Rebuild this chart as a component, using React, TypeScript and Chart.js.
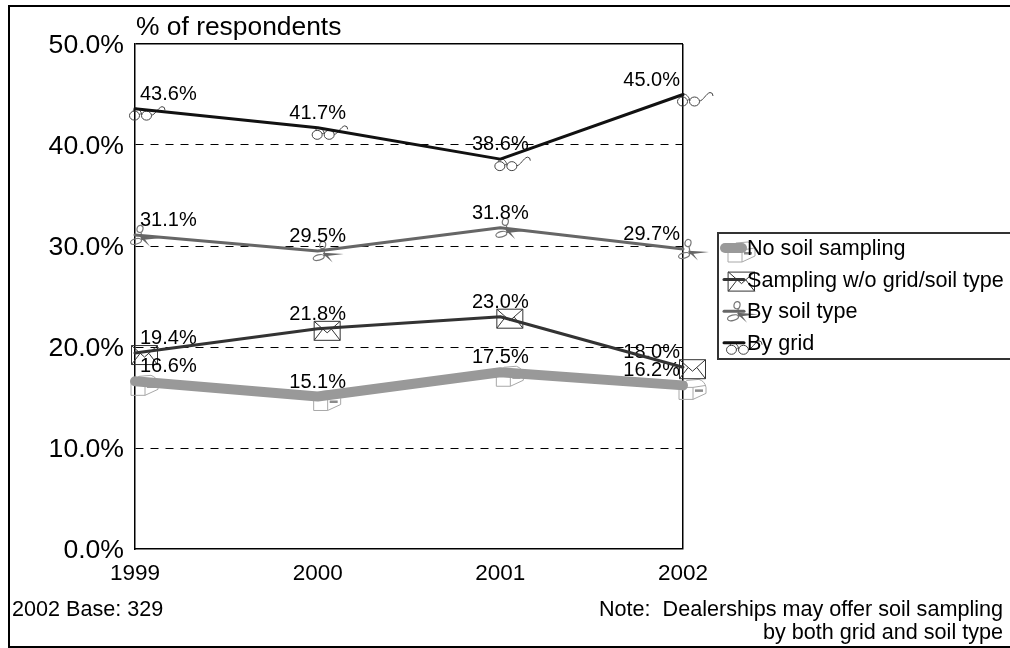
import React, { useEffect, useRef } from "react";
import { Chart, registerables } from "chart.js";

Chart.register(...registerables);

const FONT = '"Liberation Sans", Arial, sans-serif';

const years = ["1999", "2000", "2001", "2002"];
const noSoilSampling = [16.6, 15.1, 17.5, 16.2];
const samplingWithoutGrid = [19.4, 21.8, 23.0, 18.0];
const bySoilType = [31.1, 29.5, 31.8, 29.7];
const byGrid = [43.6, 41.7, 38.6, 45.0];

const seriesNames = ["No soil sampling", "Sampling w/o grid/soil type", "By soil type", "By grid"];
const seriesIcons = ["mailbox", "envelope", "scissors", "glasses"];
const seriesColors = ["#999999", "#333333", "#666666", "#111111"];
const seriesWidths = [10, 3, 3, 3];

const axisTitle = "% of respondents";
const baseNote = "2002 Base: 329";
const footNotes = ["Note:  Dealerships may offer soil sampling", "by both grid and soil type"];

function drawMailbox(ctx: CanvasRenderingContext2D, x: number, y: number) {
  ctx.save();
  ctx.translate(x, y);
  ctx.strokeStyle = "#a8a8a8";
  ctx.lineWidth = 1;
  ctx.beginPath();
  ctx.rect(-4, 2, 14, 12);
  ctx.moveTo(-4, 2);
  ctx.lineTo(4, -5);
  ctx.lineTo(16, -6);
  ctx.quadraticCurveTo(22, -4, 23, 2);
  ctx.lineTo(23, 8);
  ctx.lineTo(10, 14);
  ctx.moveTo(10, 2);
  ctx.lineTo(23, 0);
  ctx.stroke();
  ctx.fillStyle = "#8c8c8c";
  ctx.fillRect(12, 4, 8, 2.5);
  ctx.restore();
}

function drawEnvelope(ctx: CanvasRenderingContext2D, x: number, y: number) {
  ctx.save();
  ctx.translate(x, y);
  ctx.strokeStyle = "#333333";
  ctx.lineWidth = 1;
  ctx.beginPath();
  ctx.rect(-3.5, -7.5, 26, 19);
  ctx.moveTo(-3.5, -7.5);
  ctx.lineTo(9.5, 4);
  ctx.lineTo(22.5, -7.5);
  ctx.moveTo(-3.5, 11.5);
  ctx.lineTo(5, 0.5);
  ctx.moveTo(22.5, 11.5);
  ctx.lineTo(14, 0.5);
  ctx.stroke();
  ctx.restore();
}

function drawScissors(ctx: CanvasRenderingContext2D, x: number, y: number) {
  ctx.save();
  ctx.translate(x, y);
  ctx.strokeStyle = "#777777";
  ctx.lineWidth = 1.2;
  ctx.beginPath();
  ctx.ellipse(5, -6, 3, 3.6, 0.2, 0, Math.PI * 2);
  ctx.moveTo(6, -2.5);
  ctx.lineTo(7, 3);
  ctx.moveTo(7.5, 4);
  ctx.ellipse(1, 6.5, 5.6, 2.7, -0.25, 0, Math.PI * 2);
  ctx.stroke();
  ctx.fillStyle = "#666666";
  ctx.beginPath();
  ctx.moveTo(5, 1.6);
  ctx.lineTo(26, 3);
  ctx.lineTo(7, 5.2);
  ctx.closePath();
  ctx.fill();
  ctx.beginPath();
  ctx.moveTo(5.5, 3);
  ctx.lineTo(15, 11.5);
  ctx.lineTo(9, 3);
  ctx.closePath();
  ctx.fill();
  ctx.restore();
}

function drawGlasses(ctx: CanvasRenderingContext2D, x: number, y: number) {
  ctx.save();
  ctx.translate(x, y);
  ctx.strokeStyle = "#444444";
  ctx.lineWidth = 1;
  ctx.beginPath();
  ctx.ellipse(-0.5, 7, 5, 4.5, 0, 0, Math.PI * 2);
  ctx.moveTo(16.5, 7);
  ctx.ellipse(11.5, 7, 5, 4.5, 0, 0, Math.PI * 2);
  ctx.moveTo(4.5, 6);
  ctx.quadraticCurveTo(5.5, 4.5, 6.5, 6);
  ctx.moveTo(-2, 2.5);
  ctx.bezierCurveTo(0, -3, 5, 0, 7, 6);
  ctx.moveTo(16.5, 6.5);
  ctx.bezierCurveTo(20, 6.5, 23, -1, 27, -2);
  ctx.quadraticCurveTo(30, -2, 30, 1.5);
  ctx.stroke();
  ctx.restore();
}

const iconPainters: Record<string, (c: CanvasRenderingContext2D, x: number, y: number) => void> = {
  mailbox: drawMailbox,
  envelope: drawEnvelope,
  scissors: drawScissors,
  glasses: drawGlasses,
};

// Outer frame and free-standing captions.
const framePlugin = {
  id: "frame",
  beforeDraw(chart: Chart) {
    const { ctx, width, height } = chart;
    ctx.save();
    ctx.fillStyle = "#ffffff";
    ctx.fillRect(0, 0, width, height);
    ctx.strokeStyle = "#000000";
    ctx.lineWidth = 2;
    ctx.beginPath();
    ctx.moveTo(width, 6);
    ctx.lineTo(9, 6);
    ctx.lineTo(9, 647);
    ctx.lineTo(width, 647);
    ctx.stroke();
    ctx.fillStyle = "#000000";
    ctx.textBaseline = "middle";
    ctx.font = `26.4px ${FONT}`;
    ctx.textAlign = "left";
    ctx.fillText(axisTitle, 136, 28);
    ctx.font = `21.6px ${FONT}`;
    ctx.fillText(baseNote, 12, 610);
    ctx.textAlign = "right";
    footNotes.forEach((line, i) => ctx.fillText(line, 1003, 610 + i * 23));
    ctx.restore();
  },
};

// Icons and value labels sit beneath the lines.
const markerPlugin = {
  id: "markers",
  beforeDatasetsDraw(chart: Chart) {
    const { ctx } = chart;
    chart.data.datasets.forEach((_, i) => {
      chart.getDatasetMeta(i).data.forEach((pt) => iconPainters[seriesIcons[i]](ctx, pt.x, pt.y));
    });
    ctx.save();
    ctx.fillStyle = "#000000";
    ctx.font = `20px ${FONT}`;
    ctx.textBaseline = "middle";
    chart.data.datasets.forEach((ds, i) => {
      const last = ds.data.length - 1;
      chart.getDatasetMeta(i).data.forEach((pt, j) => {
        const text = (ds.data[j] as number).toFixed(1) + "%";
        ctx.textAlign = j === 0 ? "left" : j === last ? "right" : "center";
        const x = j === 0 ? pt.x + 5 : j === last ? pt.x - 3 : pt.x;
        ctx.fillText(text, x, pt.y - 14.5);
      });
    });
    ctx.restore();
  },
};

// Boxed key at the right, open towards the page edge.
const keyPlugin = {
  id: "key",
  afterDraw(chart: Chart) {
    const { ctx, width } = chart;
    ctx.save();
    ctx.strokeStyle = "#333333";
    ctx.lineWidth = 2;
    ctx.beginPath();
    ctx.moveTo(width, 233);
    ctx.lineTo(718, 233);
    ctx.lineTo(718, 359);
    ctx.lineTo(width, 359);
    ctx.stroke();
    seriesNames.forEach((name, i) => {
      const y = 248 + i * 31.6;
      iconPainters[seriesIcons[i]](ctx, 732, y);
      ctx.strokeStyle = seriesColors[i];
      ctx.lineWidth = seriesWidths[i];
      ctx.lineCap = "round";
      ctx.beginPath();
      ctx.moveTo(i === 0 ? 725 : 724, y);
      ctx.lineTo(i === 0 ? 742 : 744, y);
      ctx.stroke();
      ctx.fillStyle = "#000000";
      ctx.font = `21.6px ${FONT}`;
      ctx.textAlign = "left";
      ctx.textBaseline = "middle";
      ctx.fillText(name, 747, y + 1);
    });
    ctx.restore();
  },
};

export default function App() {
  const canvasRef = useRef<HTMLCanvasElement>(null);

  useEffect(() => {
    if (!canvasRef.current) return;
    const seriesValues = [noSoilSampling, samplingWithoutGrid, bySoilType, byGrid];
    const chart = new Chart(canvasRef.current, {
      type: "line",
      data: {
        labels: years,
        datasets: seriesNames.map((label, i) => ({
          label,
          data: seriesValues[i],
          borderColor: seriesColors[i],
          borderWidth: seriesWidths[i],
          borderCapStyle: "round" as const,
          borderJoinStyle: "round" as const,
          pointRadius: 0,
          tension: 0,
          fill: false,
          clip: false as any,
        })),
      },
      options: {
        animation: false,
        responsive: false,
        devicePixelRatio: 1,
        layout: { padding: { left: 0, right: 327, top: 44, bottom: 0 } },
        plugins: { legend: { display: false }, title: { display: false }, tooltip: { enabled: false } },
        scales: {
          x: {
            offset: false,
            afterFit(scale: any) {
              scale.height = 99;
            },
            grid: {
              drawTicks: false,
              lineWidth: 1.5,
              color: (c: any) => (c.index === years.length - 1 ? "#000000" : "rgba(0,0,0,0)"),
            },
            border: { display: true, color: "#000000", width: 1.5 },
            ticks: {
              color: "#000000",
              font: { family: FONT, size: 22.5 },
              padding: 11,
              maxRotation: 0,
              autoSkip: false,
            },
          },
          y: {
            min: 0,
            max: 50,
            afterFit(scale: any) {
              scale.width = 135;
            },
            grid: {
              drawTicks: false,
              lineWidth: (c: any) => (c.tick.value === 50 ? 1.5 : 1),
              color: (c: any) => (c.tick.value === 0 ? "rgba(0,0,0,0)" : "#000000"),
            },
            border: {
              display: true,
              color: "#000000",
              width: 1.5,
              dash: (c: any) => (c.tick && c.tick.value === 50 ? [] : [8, 7]),
            },
            ticks: {
              stepSize: 10,
              color: "#000000",
              font: { family: FONT, size: 26.6 },
              padding: 11,
              labelOffset: 1.5,
              callback: (v: any) => Number(v).toFixed(1) + "%",
            },
          },
        },
      },
      plugins: [framePlugin, markerPlugin, keyPlugin],
    });
    return () => chart.destroy();
  }, []);

  return (
    <canvas
      ref={canvasRef}
      width={1010}
      height={648}
      style={{ position: "absolute", left: 0, top: 0, display: "block" }}
    />
  );
}
